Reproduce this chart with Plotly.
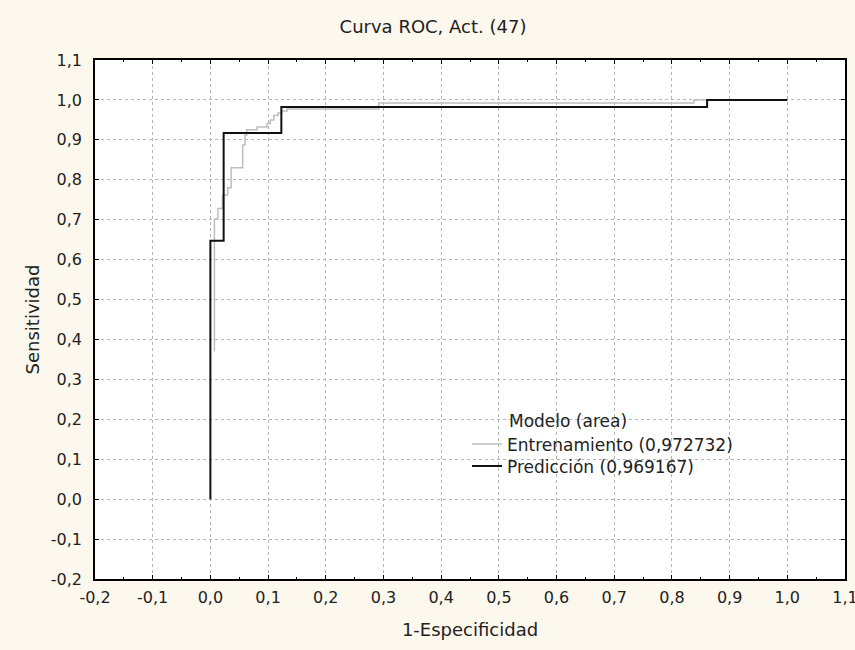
import plotly.graph_objects as go

# ---- data ----
train_fpr = [0.007, 0.013, 0.021, 0.030, 0.036, 0.056, 0.060, 0.063, 0.081, 0.098,
             0.104, 0.110, 0.117, 0.124, 0.133, 0.292, 0.838, 1.0]
train_tpr = [0.370, 0.702, 0.728, 0.762, 0.780, 0.830, 0.887, 0.912, 0.925, 0.932,
             0.941, 0.950, 0.961, 0.967, 0.972, 0.977, 0.992, 1.0]
pred_fpr = [0.0, 0.023, 0.123, 0.861, 1.0]
pred_tpr = [0.0, 0.647, 0.917, 0.982, 1.0]

train_name = "Entrenamiento (0,972732)"
pred_name = "Predicción (0,969167)"
legend_title = "Modelo (area)"
title_text = "Curva ROC, Act. (47)"
x_title = "1-Especificidad"
y_title = "Sensitividad"

tick_vals = [-0.2, -0.1, 0.0, 0.1, 0.2, 0.3, 0.4, 0.5, 0.6, 0.7, 0.8, 0.9, 1.0, 1.1]
tick_text = ["-0,2", "-0,1", "0,0", "0,1", "0,2", "0,3", "0,4", "0,5", "0,6", "0,7",
             "0,8", "0,9", "1,0", "1,1"]

FONT = "DejaVu Sans, Verdana, sans-serif"
TXT = "#222222"

# plot-area pixel frame (for converting layout positions)
L, R, T, B = 95, 845, 60, 579
W, H = R - L, B - T

fig = go.Figure()
fig.add_trace(go.Scatter(x=train_fpr, y=train_tpr, mode="lines", name=train_name,
                         legend="legend",
                         line=dict(color="#bebebe", width=1.5, shape="vh")))
fig.add_trace(go.Scatter(x=pred_fpr, y=pred_tpr, mode="lines", name=pred_name,
                         legend="legend2",
                         line=dict(color="#111111", width=2, shape="vh")))

axis_common = dict(
    tickvals=tick_vals, ticktext=tick_text,
    showgrid=True, gridcolor="#b4b4b4", griddash="dot", gridwidth=1,
    zeroline=False, showline=True, linecolor="black", linewidth=1.5, mirror="ticks",
    ticks="inside", ticklen=4, tickcolor="black",
    tickfont=dict(family=FONT, size=16, color=TXT),
    range=[-0.2, 1.1], automargin=False, ticklabeloverflow="allow",
)

fig.update_xaxes(**axis_common,
                 title=dict(text=x_title, font=dict(family=FONT, size=18, color=TXT), standoff=17),
                 minor=dict(ticks="inside", ticklen=2, dtick=0.05, tickcolor="black", showgrid=False),
                 ticklabelstandoff=3)
fig.update_yaxes(**axis_common,
                 title=dict(text=y_title, font=dict(family=FONT, size=18, color=TXT), standoff=7),
                 ticklabelstandoff=8)

fig.add_annotation(text=legend_title, xref="paper", yref="paper",
                   x=(507 - L) / W, y=(B - 421) / H, xanchor="left", yanchor="middle",
                   showarrow=False, font=dict(family=FONT, size=17, color=TXT))

legend_common = dict(xanchor="left", yanchor="top", bgcolor="rgba(0,0,0,0)", borderwidth=0,
                     font=dict(family=FONT, size=17, color=TXT), itemwidth=30)

fig.update_layout(
    width=855, height=650,
    margin=dict(l=L, r=855 - R, t=T, b=650 - B),
    paper_bgcolor="#fcf8ee", plot_bgcolor="white",
    title=dict(text=title_text, x=433 / 855, xanchor="center", xref="container",
               yref="container", y=1 - 27 / 650, yanchor="middle", automargin=False,
               font=dict(family=FONT, size=18, color=TXT)),
    showlegend=True,
    legend=dict(x=(467 - L) / W, y=(B - 426.5) / H, **legend_common),
    legend2=dict(x=(467 - L) / W, y=(B - 448.5) / H, **legend_common),
)

fig.write_html("out.html", config={"displayModeBar": False},
               post_script="document.body.style.margin='0';")
